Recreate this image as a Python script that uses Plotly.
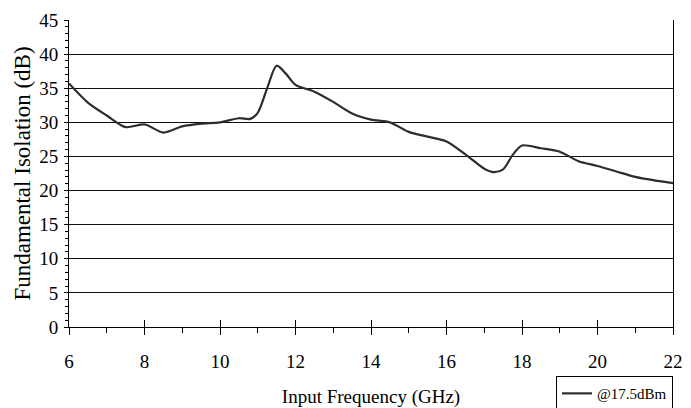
import plotly.graph_objects as go

freq_ghz = [6.0, 6.5, 7.0, 7.5, 8.0, 8.5, 9.0, 9.5, 10.0, 10.5, 10.8, 11.0, 11.25, 11.5,
            11.75, 12.0, 12.5, 13.0, 13.5, 14.0, 14.5, 15.0, 15.5, 16.0, 16.5, 17.0,
            17.25, 17.5, 17.75, 18.0, 18.5, 19.0, 19.5, 20.0, 20.5, 21.0, 21.5, 22.0]
isolation_db = [35.7, 32.9, 31.0, 29.3, 29.7, 28.5, 29.4, 29.8, 30.0, 30.6, 30.5, 31.4, 35.0, 38.3,
                37.1, 35.5, 34.5, 33.0, 31.3, 30.4, 30.0, 28.6, 27.9, 27.2, 25.3, 23.2,
                22.7, 23.1, 25.2, 26.6, 26.2, 25.7, 24.3, 23.6, 22.8, 22.0, 21.5, 21.1]
series_name = "@17.5dBm"
x_title = "Input Frequency (GHz)"
y_title = "Fundamental Isolation (dB)"
x_ticks = [6, 8, 10, 12, 14, 16, 18, 20, 22]
y_ticks = [0, 5, 10, 15, 20, 25, 30, 35, 40, 45]

FONT = "Liberation Serif, Times New Roman, serif"

fig = go.Figure()
fig.add_trace(go.Scatter(
    x=freq_ghz, y=isolation_db, mode="lines", name=series_name,
    line=dict(color="#2d2d2d", width=2.2, shape="spline", smoothing=0.8),
))
# invisible trace on overlay axis to draw inward part of crossing x ticks
fig.add_trace(go.Scatter(
    x=freq_ghz, y=isolation_db, mode="lines", xaxis="x2", showlegend=False,
    hoverinfo="skip", line=dict(color="rgba(0,0,0,0)", width=0),
))

# page body has an 8px margin, so the figure is sized to fit inside the visible window
fig.update_layout(
    width=675, height=400,
    margin=dict(l=61, r=10, t=12, b=81, autoexpand=False),
    paper_bgcolor="white", plot_bgcolor="white",
    font=dict(family=FONT, color="black", size=19),
    showlegend=True,
    legend=dict(
        x=1.0, xanchor="right", y=-0.16, yanchor="top",
        bordercolor="black", borderwidth=1, bgcolor="white",
        font=dict(family=FONT, size=15, color="black"),
        itemwidth=30, tracegroupgap=0,
    ),
    xaxis=dict(
        range=[6, 22], tickvals=x_ticks, ticktext=[str(v) for v in x_ticks],
        showgrid=False, zeroline=False, automargin=False,
        showline=True, linecolor="black", linewidth=1,
        ticks="outside", ticklen=7, tickwidth=1, tickcolor="black",
        minor=dict(dtick=1, ticks="outside", ticklen=5, tickwidth=1, tickcolor="black", showgrid=False),
        ticklabelstandoff=10, ticklabeloverflow="allow",
        title=dict(text=x_title, font=dict(family=FONT, size=19), standoff=20),
        tickfont=dict(family=FONT, size=19),
    ),
    xaxis2=dict(
        range=[6, 22], overlaying="x", anchor="y", side="bottom",
        tickvals=x_ticks, showticklabels=False, showgrid=False, zeroline=False,
        showline=False, ticks="inside", ticklen=7, tickwidth=1, tickcolor="black",
    ),
    yaxis=dict(
        range=[0, 45], tickvals=y_ticks, ticktext=[str(v) for v in y_ticks],
        showgrid=True, gridcolor="#111", gridwidth=1, zeroline=False, automargin=False,
        showline=True, linecolor="black", linewidth=1, mirror=True,
        ticks="outside", ticklen=4, tickwidth=1, tickcolor="black",
        minor=dict(dtick=1, ticks="outside", ticklen=3, tickwidth=1, tickcolor="black", showgrid=False),
        ticklabelstandoff=2,
        title=dict(text=y_title, font=dict(family=FONT, size=23), standoff=2),
        tickfont=dict(family=FONT, size=19),
    ),
)

fig.write_html("out.html")
